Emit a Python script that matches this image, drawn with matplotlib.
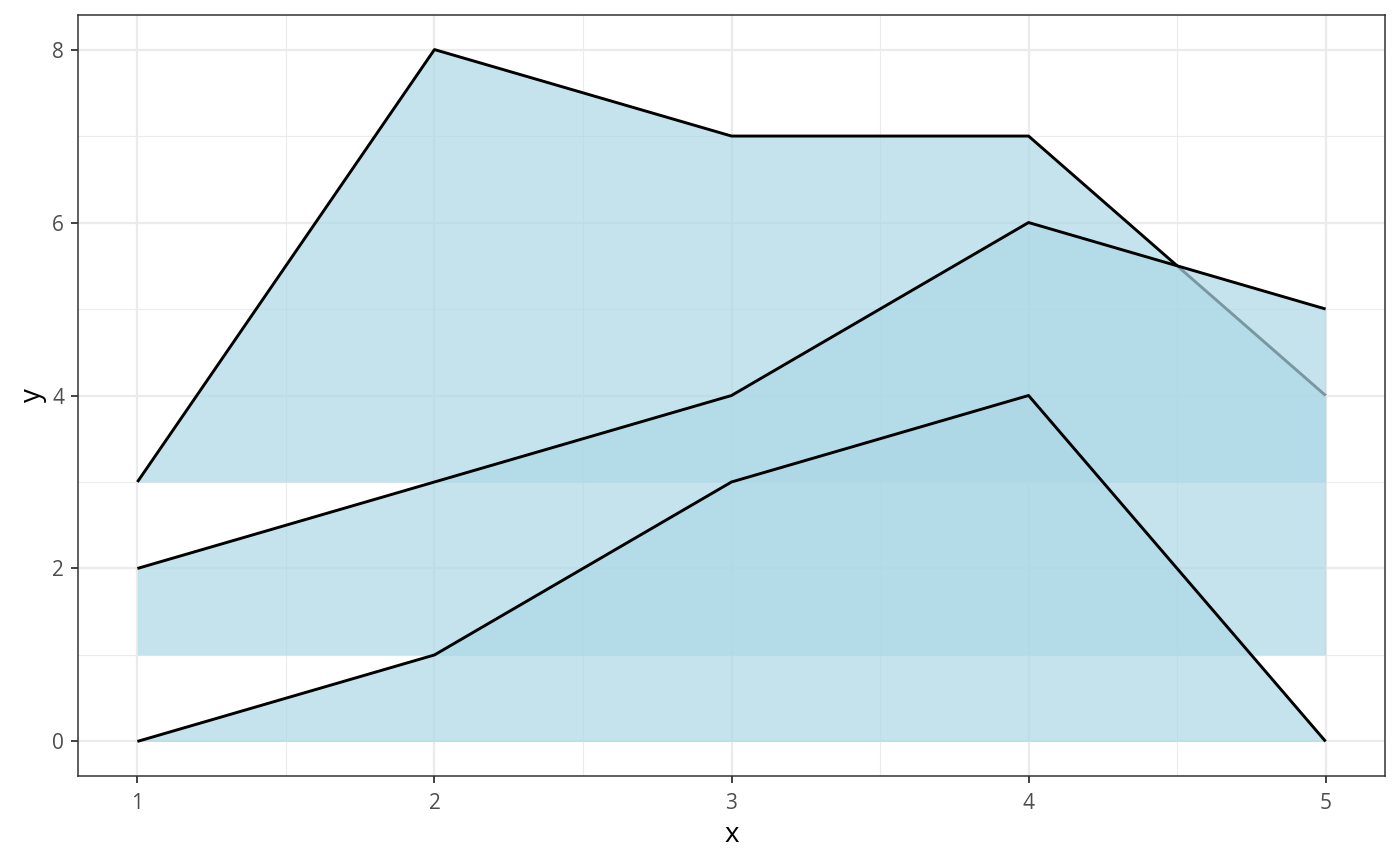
import matplotlib
matplotlib.use("Agg")
import matplotlib.pyplot as plt
from matplotlib.ticker import MultipleLocator

plt.rcParams['font.family'] = ['Open Sans', 'DejaVu Sans']

x = [1, 2, 3, 4, 5]
# series drawn in order: C, B, A
series_c = [3, 8, 7, 7, 4]
base_c = 3
series_b = [2, 3, 4, 6, 5]
base_b = 1
series_a = [0, 1, 3, 4, 0]
base_a = 0

fig = plt.figure(figsize=(14, 8.66), dpi=100)
ax = fig.add_axes([0.0557, 0.1039, 0.9336, 0.8788])

fill_col = '#ADD8E6'
for ys, base in [(series_c, base_c), (series_b, base_b), (series_a, base_a)]:
    ax.fill_between(x, base, ys, color=fill_col, alpha=0.7, linewidth=0, zorder=2)
    ax.plot(x, ys, color='black', lw=2.1, zorder=2, solid_capstyle='butt')

ax.set_xlim(0.8, 5.2)
ax.set_ylim(-0.4, 8.4)
ax.xaxis.set_major_locator(MultipleLocator(1))
ax.xaxis.set_minor_locator(MultipleLocator(0.5))
ax.yaxis.set_major_locator(MultipleLocator(2))
ax.yaxis.set_minor_locator(MultipleLocator(1))
ax.grid(which='major', color='#EBEBEB', lw=1.6, zorder=0)
ax.grid(which='minor', color='#EBEBEB', lw=0.8, zorder=0)
ax.set_axisbelow(True)

ax.tick_params(axis='x', which='major', pad=7)
ax.tick_params(axis='y', which='major', pad=5)
ax.tick_params(which='major', length=5, width=1.3, color='#333333',
               labelsize=15, labelcolor='#4D4D4D')
ax.tick_params(which='minor', length=0)
for s in ax.spines.values():
    s.set_color('#333333')
    s.set_linewidth(1.1)

ax.set_xlabel('x', fontsize=20, color='black', labelpad=5)
ax.set_ylabel('y', fontsize=20, color='black', labelpad=4)

fig.savefig('out.png', dpi=100)
